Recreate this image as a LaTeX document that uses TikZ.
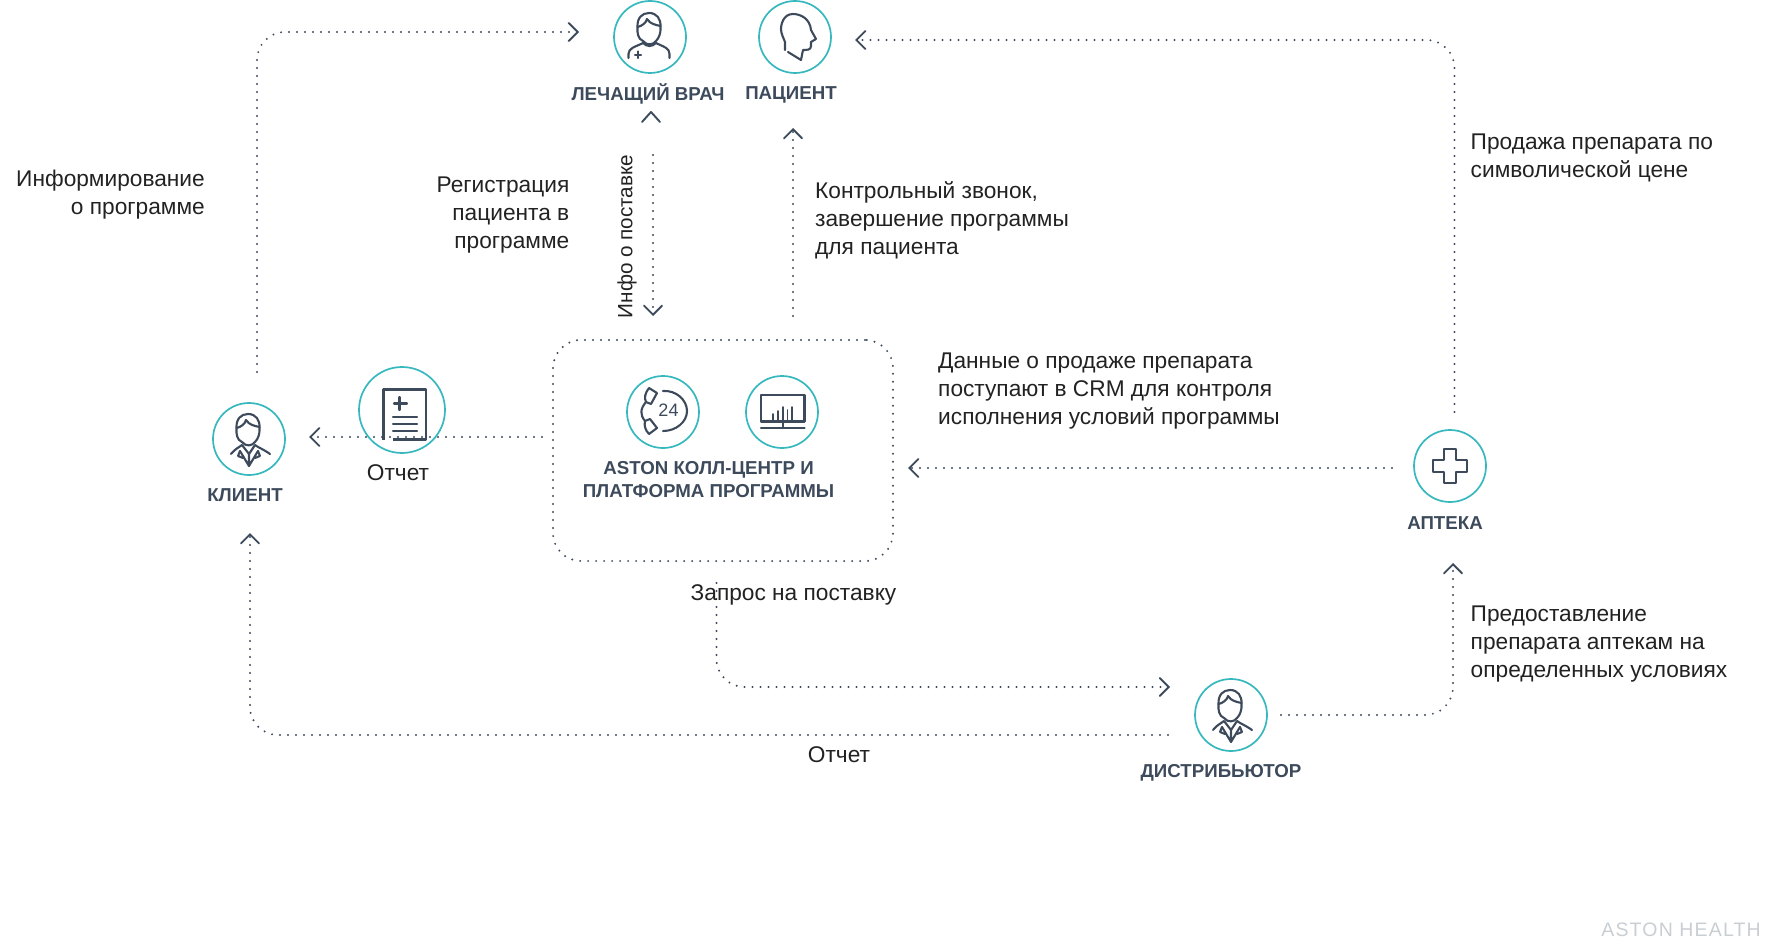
\documentclass[tikz,border=0pt]{standalone}
\usepackage{fontspec}
\setmainfont{Liberation Sans}
\usetikzlibrary{arrows.meta}
\definecolor{ink}{HTML}{3D4A5B}
\definecolor{teal2}{HTML}{36B8BE}
\definecolor{txt}{HTML}{222222}
\definecolor{wm}{HTML}{C9CED3}
\tikzset{
  ring/.style={circle,draw=teal2,line width=1.7pt,minimum size=72pt,inner sep=0pt},
  bigring/.style={ring,minimum size=86pt},
  dots/.style={draw=ink,line width=2.2pt,line cap=round,dash pattern=on 0pt off 8pt},
  flow/.style={dots,rounded corners=28pt,-{Straight Barb[length=9pt,width=18pt,line width=1.9pt,line cap=round]}},
  centrebox/.style={dots,rectangle,rounded corners=28pt,minimum width=340pt,minimum height=221pt,inner sep=0pt},
  role/.style={font=\fontsize{18.7}{23}\selectfont\bfseries,text=ink,inner sep=0pt,align=center},
  note/.style={font=\fontsize{22.7}{28}\selectfont,text=txt,inner sep=0pt},
  glyph/.style={draw=ink,line width=2.1pt,line cap=round,line join=round},
  faceicon/.pic={
    \draw[glyph] (-7,4) .. controls (-12,2) and (-13,-4) .. (-12.5,-10) .. controls (-13,-19) and (-8,-24) .. (-1,-24) .. controls (7,-24) and (11,-18) .. (10.5,-10) .. controls (11,-4) and (9,1) .. (6,4) .. controls (3,8) and (-3,9) .. (-7,4) -- cycle;
    \draw[glyph] (-12.5,-10) .. controls (-8,-11) and (-4,-14) .. (-3,-18) .. controls (0,-13) and (6,-12) .. (10.5,-11);
  },
  doctoricon/.pic={
    \pic {faceicon};
    \draw[glyph] (-21.5,21) -- (-21.5,17) .. controls (-21.5,11) and (-15,10) .. (-7,6);
    \draw[glyph] (19.5,21) -- (19.5,17) .. controls (19.5,11) and (14,10) .. (6,6);
    \draw[glyph] (-7,6) .. controls (-3,10) and (2,10) .. (6,6);
    \draw[glyph] (-12,14.5) -- (-12,21) (-15,18) -- (-9,18);
  },
  suiticon/.pic={
    \pic[yshift=1pt] {faceicon};
    \draw[glyph] (-18,15) .. controls (-14,10) and (-11,9) .. (-7,6) -- (0,15) -- (6,6) .. controls (10,9) and (14,10) .. (21,15);
    \draw[glyph] (-9,12) -- (0,27) -- (9,12) (0,15) -- (0,25);
    \draw[glyph] (-9,12) -- (-11,17) -- (-6,19);
    \draw[glyph] (9,12) -- (11,17) -- (6,19);
  },
  headicon/.pic={
    \draw[glyph] (-7,15) -- (6,23) -- (8,13) .. controls (12,13) and (16,13) .. (16,9) -- (16,5) -- (21,2) -- (16,-7) .. controls (15,-18) and (6,-23) .. (-2,-23) .. controls (-12,-23) and (-14,-12) .. (-14,-8) .. controls (-14,-3) and (-11,2) .. (-10,5) -- (-10,13);
  },
  reporticon/.pic={
    \draw[glyph,line cap=butt] (-18.5,30) -- (-18.5,-20.5) -- (24,-20.5) -- (24,29.5) -- (-9,29.5);
    \draw[glyph] (-8,-6.5) -- (5,-6.5) (-2.5,-13) -- (-2.5,0);
    \draw[glyph] (-9,7) -- (15,7) (-9,14) -- (15,14) (-9,21) -- (15,21);
  },
  callicon/.pic={
    \draw[glyph] (0,-21) .. controls (13,-22) and (24,-12) .. (24,-1) .. controls (24,10) and (13,19) .. (0,19);
    \draw[glyph] (-14,-24) -- (-6,-19) -- (-12,-8) -- (-17,-10) .. controls (-19,-14) and (-18,-19) .. (-14,-24) -- cycle;
    \draw[glyph] (-14,22) -- (-6,16) -- (-13,7) -- (-18,9) .. controls (-19,13) and (-18,18) .. (-14,22) -- cycle;
    \draw[glyph] (-17,-10) .. controls (-23,-3) and (-23,3) .. (-18,9);
    \node[font=\fontsize{18}{18}\selectfont,text=ink,inner sep=0pt] at (5.5,-2) {24};
  },
  screenicon/.pic={
    \draw[glyph] (-21,9.5) -- (-21,-17) -- (22.5,-17) -- (22.5,9.5) -- cycle;
    \draw[glyph] (1,9.5) -- (1,16) (-21,16) -- (22.5,16);
    \draw[glyph,line width=1.7pt] (-9,9) -- (-9,2) (-4,9) -- (-4,-1) (1,9) -- (1,-5) (5.5,9) -- (5.5,-2) (10,9) -- (10,-5);
  },
  crossicon/.pic={
    \draw[glyph] (-5.8,-17) -- (5.8,-17) -- (5.8,-5.8) -- (17,-5.8) -- (17,5.8) -- (5.8,5.8) -- (5.8,17) -- (-5.8,17) -- (-5.8,5.8) -- (-17,5.8) -- (-17,-5.8) -- (-5.8,-5.8) -- cycle;
  },
}
\begin{document}
\begin{tikzpicture}[x=1pt,y=-1pt]
\useasboundingbox (0,0) rectangle (1771,952);
% nodes
\node[ring] (doctor) at (650,37) {};
\node[ring] (patient) at (795,37) {};
\node[ring] (client) at (249,439) {};
\node[bigring] (report) at (402,410) {};
\node[ring] (call) at (663,412) {};
\node[ring] (screen) at (782,412) {};
\node[ring] (distrib) at (1231,715) {};
\node[ring] (pharmacy) at (1450,466) {};
\node[centrebox] (hub) at (723,450.5) {};
% icons
\pic at (doctor) {doctoricon};
\pic at (patient) {headicon};
\pic at (client) {suiticon};
\pic at (distrib) {suiticon};
\pic at (report) {reporticon};
\pic at (call) {callicon};
\pic at (screen) {screenicon};
\pic at (pharmacy) {crossicon};
% free ends
\coordinate (a1) at (257,372);
\coordinate (a1c) at (257,32);
\coordinate (a1e) at (579,32);
\coordinate (a2) at (1454.5,412);
\coordinate (a2c) at (1454.5,40);
\coordinate (a2e) at (855,40);
\coordinate (a3) at (793,316);
\coordinate (a3e) at (793,128);
\coordinate (a4) at (653,155);
\coordinate (a4e) at (653,316);
\coordinate (a5) at (542,437);
\coordinate (a5e) at (309,437);
\coordinate (a6) at (1392,468);
\coordinate (a6e) at (908,468);
\coordinate (a7) at (716.5,583);
\coordinate (a7c) at (716.5,687);
\coordinate (a7e) at (1170,687);
\coordinate (a8) at (1168,735);
\coordinate (a8c) at (250,735);
\coordinate (a8e) at (250,533);
\coordinate (a9) at (1281,715);
\coordinate (a9c) at (1453,715);
\coordinate (a9e) at (1453,563);
% connectors
\draw[flow] (a1) -- (a1c) -- (a1e);
\draw[flow] (a2) -- (a2c) -- (a2e);
\draw[flow] (a3) -- (a3e);
\draw[flow] (a4) -- (a4e);
\draw[flow] (a5) -- (a5e);
\draw[flow] (a6) -- (a6e);
\draw[flow] (a7) -- (a7c) -- (a7e);
\draw[flow] (a8) -- (a8c) -- (a8e);
\draw[flow] (a9) -- (a9c) -- (a9e);
\draw[draw=ink,line width=1.9pt,line cap=round,line join=round] (642,122) -- (651,112) -- (660,122);
% role labels
\node[role] (ldoctor) at (648,94) {ЛЕЧАЩИЙ ВРАЧ};
\node[role] (lpatient) at (791,95) {ПАЦИЕНТ};
\node[role] (lclient) at (245,495) {КЛИЕНТ};
\node[role] (lhub) at (708.5,479.5) {ASTON КОЛЛ-ЦЕНТР И\\ПЛАТФОРМА ПРОГРАММЫ};
\node[role] (ldistrib) at (1221,773) {ДИСТРИБЬЮТОР};
\node[role] (lpharm) at (1445,523) {АПТЕКА};
% notes
\node[note,anchor=east,align=right] (n1) at (205,194.5) {Информирование\\о программе};
\node[note,anchor=east,align=right] (n2) at (569.5,215.5) {Регистрация\\пациента в\\программе};
\node[note,anchor=west,align=left] (n3) at (815,220) {Контрольный звонок,\\завершение программы\\для пациента};
\node[note,anchor=west,align=left] (n4) at (1470.5,158) {Продажа препарата по\\символической цене};
\node[note,anchor=west,align=left] (n5) at (938,391.5) {Данные о продаже препарата\\поступают в CRM для контроля\\исполнения условий программы};
\node[note,anchor=west,align=left] (n6) at (1470.5,644.5) {Предоставление\\препарата аптекам на\\определенных условиях};
\node[note] (n7) at (793.5,594.5) {Запрос на поставку};
\node[note] (n8) at (839,755) {Отчет};
\node[note] (n9) at (398,473) {Отчет};
\node[note,rotate=90,font=\fontsize{20.7}{24}\selectfont] (n10) at (627,236.5) {Инфо о поставке};
\node[font=\fontsize{19.5}{24}\selectfont,text=wm,inner sep=0pt,anchor=east] (wmark) at (1761,930) {\addfontfeature{LetterSpace=6}ASTON HEALTH};
\end{tikzpicture}
\end{document}
